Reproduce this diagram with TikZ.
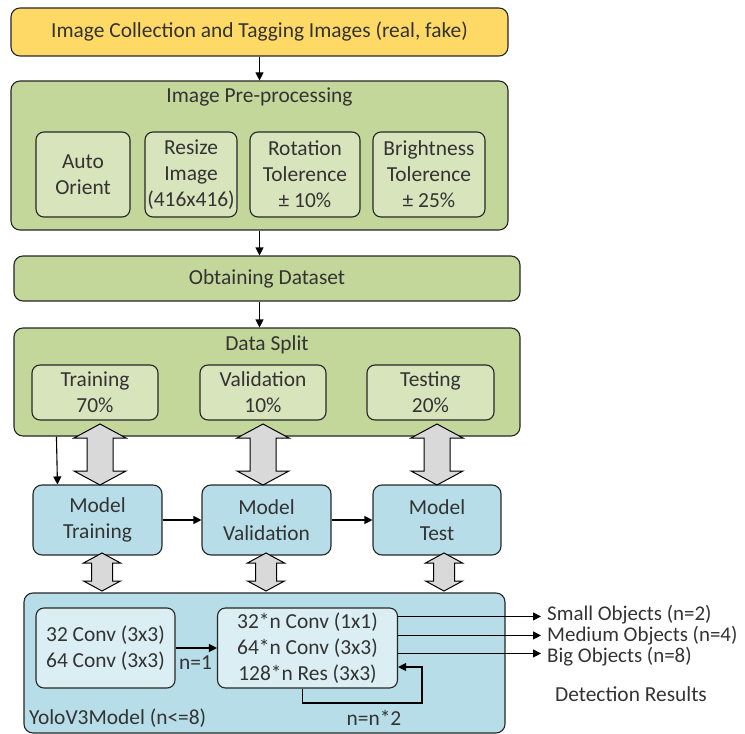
\documentclass[tikz,border=0pt]{standalone}
\usepackage{fontspec}
\setmainfont{Carlito}
\usetikzlibrary{arrows.meta,calc}
\definecolor{ylw}{HTML}{FFD966}
\definecolor{grnout}{HTML}{C4D79B}
\definecolor{grnin}{HTML}{D8E4BC}
\definecolor{bluout}{HTML}{B7DEE8}
\definecolor{bluin}{HTML}{DAEEF3}
\definecolor{garrfill}{HTML}{D9D9D9}
\definecolor{edgec}{HTML}{262626}
\definecolor{txt}{HTML}{333333}
% vertical grey block arrow: centre x, top tip y, bottom tip y, head half-width, shaft half-width, head length
\newcommand\gdarr[6]{%
  \draw[garr] (#1,#2) -- (#1+#4,#2+#6) -- (#1+#5,#2+#6) -- (#1+#5,#3-#6) -- (#1+#4,#3-#6)
    -- (#1,#3) -- (#1-#4,#3-#6) -- (#1-#5,#3-#6) -- (#1-#5,#2+#6) -- (#1-#4,#2+#6) -- cycle;}
\begin{document}
\begin{tikzpicture}[x=1bp,y=-1bp,
  every node/.style={font=\fontsize{21.5}{26}\selectfont, text=txt},
  box/.style={draw=edgec, line width=1.1bp, rounded corners=9bp, inner sep=0pt, align=center},
  inbox/.style={box, rounded corners=8bp},
  lbl/.style={inner sep=0pt},
  outlbl/.style={lbl, anchor=west, font=\fontsize{21}{24}\selectfont},
  arr/.style={draw=black, line width=1.1bp, -{Triangle[length=8bp,width=8bp]}},
  garr/.style={draw=black, line width=1bp, fill=garrfill, line join=miter}]
\useasboundingbox (0,0) rectangle (745,734);

% collection
\node[box, fill=ylw, minimum width=497bp, minimum height=48bp] (collect) at (259.5,32)
  {Image Collection and Tagging Images (real, fake)};

% pre-processing
\node[box, fill=grnout, minimum width=497bp, minimum height=149bp] (pre) at (259.5,155.5) {};
\node[lbl] (pretitle) at (259.5,97) {Image Pre-processing};
\node[inbox, fill=grnin, minimum width=94bp, minimum height=85bp] (orient) at (83,174.5) {Auto\\Orient};
\node[inbox, fill=grnin, minimum width=92bp, minimum height=85bp] (resize) at (191,174.5) {Resize\\Image\\(416x416)};
\node[inbox, fill=grnin, minimum width=110bp, minimum height=85bp] (rot) at (305,174.5) {Rotation\\Tolerence\\± 10\%};
\node[inbox, fill=grnin, minimum width=112bp, minimum height=85bp] (bright) at (429,174.5) {Brightness\\Tolerence\\± 25\%};

% dataset
\node[box, fill=grnout, minimum width=506bp, minimum height=45bp] (dataset) at (267,278.5) {Obtaining Dataset};

% data split
\node[box, fill=grnout, minimum width=506bp, minimum height=108bp] (split) at (267,382) {};
\node[lbl] (splittitle) at (267,345) {Data Split};
\node[inbox, fill=grnin, minimum width=126bp, minimum height=55bp] (train) at (95,392.5) {Training\\70\%};
\node[inbox, fill=grnin, minimum width=126bp, minimum height=55bp] (valid) at (263,392.5) {Validation\\10\%};
\node[inbox, fill=grnin, minimum width=127bp, minimum height=55bp] (test) at (430.5,392.5) {Testing\\20\%};

% models
\node[box, fill=bluout, minimum width=129bp, minimum height=70bp] (mtrain) at (97.5,520) {Model\\Training};
\node[box, fill=bluout, minimum width=129bp, minimum height=70bp] (mvalid) at (266.5,520) {Model\\Validation};
\node[box, fill=bluout, minimum width=128bp, minimum height=70bp] (mtest) at (437,520) {Model\\Test};

% YOLOv3 block
\node[box, fill=bluout, minimum width=481bp, minimum height=140bp] (yolo) at (264.5,663) {};
\node[inbox, fill=bluin, minimum width=139bp, minimum height=80bp] (convA) at (105.5,648)
  {32 Conv (3x3)\\64 Conv (3x3)};
\node[inbox, fill=bluin, minimum width=180bp, minimum height=80bp] (convB) at (307.5,648)
  {32*n Conv (1x1)\\64*n Conv (3x3)\\128*n Res (3x3)};
\node[lbl, anchor=west] (yolotitle) at (29,718) {YoloV3Model (n<=8)};
\node[lbl, anchor=west] (none) at (179,663) {n=1};
\node[lbl] (ndouble) at (374,718) {n=n*2};

% outputs
\node[outlbl] (osmall) at (547,615) {Small Objects (n=2)};
\node[outlbl] (omed) at (547,636) {Medium Objects (n=4)};
\node[outlbl] (obig) at (547,657) {Big Objects (n=8)};
\node[lbl] (detect) at (631,694) {Detection Results};

% flow arrows
\draw[arr] (collect.south) -- (pre.north);
\draw[arr] (pre.south) -- (pre.south |- dataset.north);
\draw[arr] (dataset.south -| pre.south) -- (split.north -| pre.south);
\draw[arr] ($(split.south west)+(43,0)$) -- ($(mtrain.north west)+(25,0)$);
\draw[arr] (mtrain.east) -- (mvalid.west);
\draw[arr] (mvalid.east) -- (mtest.west);
\draw[arr] (convA.east) -- (convB.west);
\coordinate (out1) at ($(convB.north east)+(0,9)$);
\coordinate (out2) at ($(convB.north east)+(0,28)$);
\coordinate (out3) at ($(convB.north east)+(0,46)$);
\draw[arr] (out1) -- ($(out1 -| osmall.west)+(-6,0)$);
\draw[arr] (out2) -- ($(out2 -| omed.west)+(-6,0)$);
\draw[arr] (out3) -- ($(out3 -| obig.west)+(-6,0)$);
\coordinate (loopc) at (422,703);
\draw[arr] ($(convB.south)+(-5,0)$) |- (loopc) |- ($(convB.east)+(0,19)$);

% grey two-way arrows
\gdarr{100}{424}{485}{26}{13}{14}
\gdarr{263}{424}{485}{26}{13}{14}
\gdarr{437}{424}{485}{26}{13}{14}
\gdarr{102}{553}{591}{18.5}{10.5}{10}
\gdarr{266}{553}{591}{18.5}{10.5}{10}
\gdarr{444}{553}{591}{18.5}{10.5}{10}
\end{tikzpicture}
\end{document}
